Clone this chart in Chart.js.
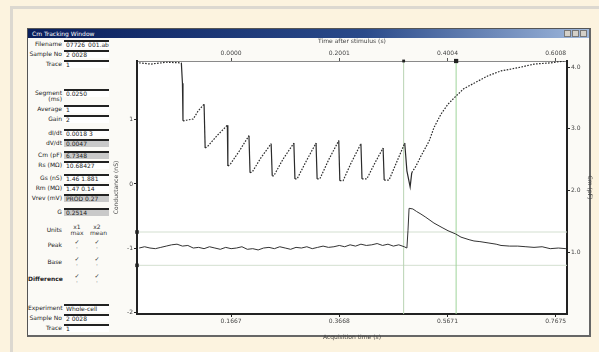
<!DOCTYPE html>
<html>
<head>
<meta charset="utf-8">
<script src="https://cdn.jsdelivr.net/npm/chart.js@4/dist/chart.umd.min.js"></script>
<style>
  body { margin: 0; width: 599px; height: 352px; background: #fcf3df; overflow: hidden; font-family: 'DejaVu Sans', sans-serif; }
  .sheet { position: absolute; left: 10px; top: 6px; width: 589px; height: 346px; border-top: 3px solid #dcd8d0; border-left: 3px solid #dcd8d0; background: #fcf3df; }
  .win { position: absolute; left: 27px; top: 28px; width: 561px; height: 306px; border: 1px solid #555; border-right: 2px solid #666; border-bottom: 2px solid #666; background: #fbfaf6; }
  .titlebar { position: absolute; left: 0; top: 0; width: 561px; height: 9px; background: linear-gradient(to right, #0a1f5c, #2a4a8a 60%, #9fb8dc); color: #fff; font-size: 6px; line-height: 9px; padding-left: 4px; box-sizing: border-box; }
  .btn { position: absolute; top: 1px; width: 7px; height: 7px; background: #d4d0c8; border: 1px solid #777; box-sizing: border-box; }
  .lab { position: absolute; font-size: 6px; color: #222; text-align: right; width: 34px; line-height: 6px; }
  .fld { position: absolute; left: 36px; width: 45px; height: 8px; border-top: 2px solid #222; background: #fff; font-size: 6px; line-height: 6px; color: #222; padding-left: 2px; box-sizing: border-box; white-space: nowrap; overflow: hidden; }
  .fld.grey { background: #c9c9c9; }
  .mk { position: absolute; font-size: 6px; color: #333; line-height: 6px; text-align: center; width: 14px; }
  #chart { position: absolute; left: 85px; top: 9px; }
</style>
</head>
<body>
<div class="sheet"></div>
<div class="win" id="win">
  <div class="titlebar">Cm Tracking Window
    <div class="btn" style="left:536px"></div><div class="btn" style="left:544px"></div><div class="btn" style="left:552px"></div>
  </div>
  <canvas id="chart" width="480" height="303"></canvas>
</div>
<script>
// upper trace (right axis): capacitance
const cmTime = [-0.170, -0.148, -0.120, -0.092, -0.090, -0.089, -0.083, -0.070, -0.061, -0.050, -0.048,
  -0.044, -0.026, -0.007, -0.006,
  -0.002, 0.015, 0.033, 0.035,
  0.039, 0.055, 0.074, 0.076,
  0.079, 0.096, 0.116, 0.118,
  0.122, 0.139, 0.157, 0.159,
  0.164, 0.181, 0.199, 0.201,
  0.207, 0.222, 0.240, 0.242,
  0.251, 0.266, 0.281, 0.283,
  0.292, 0.307, 0.321, 0.325, 0.331, 0.334,
  0.342, 0.351, 0.366, 0.375, 0.388, 0.401, 0.412, 0.430, 0.449, 0.475, 0.499, 0.530, 0.560, 0.591, 0.615, 0.619];
const cmValues = [4.07, 4.05, 4.08, 4.07, 3.74, 3.13, 3.14, 3.16, 3.29, 3.40, 2.69,
  2.71, 2.89, 3.06, 2.40,
  2.42, 2.64, 2.89, 2.29,
  2.30, 2.53, 2.76, 2.24,
  2.24, 2.51, 2.77, 2.19,
  2.19, 2.48, 2.77, 2.19,
  2.19, 2.51, 2.81, 2.16,
  2.16, 2.45, 2.76, 2.19,
  2.19, 2.45, 2.69, 2.17,
  2.17, 2.48, 2.77, 2.32, 2.06, 2.29,
  2.40, 2.56, 2.80, 3.02, 3.24, 3.40, 3.50, 3.65, 3.74, 3.86, 3.94, 3.99, 4.05, 4.07, 4.10, 4.12];

// lower trace (left axis): conductance
const gTime = [-0.17, -0.16, -0.15, -0.14, -0.13, -0.12, -0.11, -0.10, -0.09, -0.08,
  -0.07, -0.06, -0.05, -0.04, -0.03, -0.02, -0.01, 0.00, 0.01, 0.02,
  0.03, 0.04, 0.05, 0.06, 0.07, 0.08, 0.09, 0.10, 0.11, 0.12,
  0.13, 0.14, 0.15, 0.16, 0.17, 0.18, 0.19, 0.20, 0.21, 0.22,
  0.23, 0.24, 0.25, 0.26, 0.27, 0.28, 0.29, 0.30, 0.31, 0.32,
  0.325, 0.327, 0.329, 0.336, 0.343, 0.351, 0.360, 0.375, 0.390, 0.401,
  0.415, 0.425, 0.440, 0.449, 0.460, 0.475, 0.490, 0.499, 0.515, 0.530,
  0.545, 0.560, 0.575, 0.590, 0.605, 0.619];
const gValues = [-1.00, -0.98, -1.00, -1.01, -0.99, -0.97, -0.95, -0.94, -0.97, -0.96,
  -1.00, -0.99, -1.01, -0.98, -1.00, -1.02, -0.99, -1.01, -1.00, -0.98,
  -1.02, -1.01, -1.03, -1.00, -0.99, -1.01, -0.98, -1.00, -1.02, -0.99,
  -1.00, -0.98, -1.01, -0.99, -0.97, -0.99, -0.98, -0.96, -0.98, -0.95,
  -0.97, -0.94, -0.96, -0.95, -0.93, -0.96, -0.94, -0.97, -0.95, -0.98,
  -1.00, -0.73, -0.38, -0.39, -0.43, -0.47, -0.52, -0.61, -0.68, -0.73,
  -0.78, -0.83, -0.87, -0.89, -0.90, -0.92, -0.94, -0.96, -0.97, -0.97,
  -0.98, -0.99, -0.98, -1.01, -1.00, -1.01];

// cursors
const cursorTimes = [0.319, 0.416];
const cursorLevels = [-0.75, -1.27];

// axes
const timeMin = -0.174, timeMax = 0.621;
const leftMin = -2.03, leftMax = 1.92;
const rightMin = 0, rightMax = 4.1;
const timeTicks = [0, 0.2, 0.4, 0.6];
const topTickLabels = ['0.0000', '0.2001', '0.4004', '0.6008'];
const bottomTickLabels = ['0.1667', '0.3668', '0.5671', '0.7675'];
const leftTicks = [-2, -1, 0, 1];
const rightTicks = [1, 2, 3, 4];
const rightTickLabels = ['1.0', '2.0', '3.0', '4.0'];

// left panel
const panelRows = [
  ['Filename', '07726_001.abf', 43, ''],
  ['Sample No', '2 0028', 53, ''],
  ['Trace', '1', 63, ''],
  ['Segment (ms)', '0.0250', 92, ''],
  ['Average', '1', 108, ''],
  ['Gain', '2', 118, ''],
  ['dI/dt', '0.0018 3', 132, ''],
  ['dV/dt', '0.0047', 142, 'grey'],
  ['Cm (pF)', '6.7348', 154, 'grey'],
  ['Rs (MΩ)', '10.68427', 164, ''],
  ['Gs (nS)', '1.46 1.881', 177, ''],
  ['Rm (MΩ)', '1.47 0.14', 187, ''],
  ['Vrev (mV)', 'PROD 0.27', 197, 'grey'],
  ['G', '0.2514', 211, 'grey'],
  ['Experiment', 'Whole-cell', 307, ''],
  ['Sample No', '2 0028', 317, ''],
  ['Trace', '1', 327, '']
];
const checkRows = [['Units', 229], ['Peak', 244], ['Base', 261], ['Difference', 278]];

const win = document.getElementById('win');
const winTop = 28;
panelRows.forEach(([label, value, y, cls]) => {
  const l = document.createElement('div');
  l.className = 'lab';
  l.style.top = (y - winTop - 3) + 'px';
  l.textContent = label;
  win.appendChild(l);
  const f = document.createElement('div');
  f.className = 'fld ' + cls;
  f.style.top = (y - winTop - 4) + 'px';
  f.textContent = value;
  win.appendChild(f);
});
checkRows.forEach(([label, y], i) => {
  const l = document.createElement('div');
  l.className = 'lab';
  l.style.top = (y - winTop - 3) + 'px';
  l.style.fontWeight = i === 3 ? 'bold' : 'normal';
  l.textContent = label;
  win.appendChild(l);
  [42, 62].forEach((x, j) => {
    const m = document.createElement('div');
    m.className = 'mk';
    m.style.left = x + 'px';
    m.style.top = (y - winTop - 6) + 'px';
    m.innerHTML = i === 0 ? (j === 0 ? 'x1<br>max' : 'x2<br>mean') : '✓<br>·';
    win.appendChild(m);
  });
});

const fixSize = (w, h) => (s) => {
  if (w) s.width = w;
  if (h) s.height = h;
  s.paddingTop = 0; s.paddingBottom = 0; s.paddingLeft = 0; s.paddingRight = 0;
};

const plotBg = {
  id: 'plotBg',
  beforeDraw(chart) {
    const { ctx, chartArea: a } = chart;
    ctx.save();
    ctx.fillStyle = '#ffffff';
    ctx.fillRect(a.left, a.top, a.right - a.left, a.bottom - a.top);
    ctx.restore();
  }
};

Chart.defaults.font.family = "'DejaVu Sans', sans-serif";
Chart.defaults.font.size = 6;
Chart.defaults.color = '#444';

const cursorSets = [
  ...cursorTimes.map((t, i) => ({
    data: [{ x: t, y: leftMin }, { x: t, y: leftMax }],
    yAxisID: 'y',
    borderColor: i === 0 ? '#b9d3b3' : '#9fd49a',
    borderWidth: 1,
    pointStyle: 'rect',
    pointRadius: [0, i === 0 ? 2 : 3],
    pointBackgroundColor: '#222',
    pointBorderWidth: 0,
    clip: false,
    order: 2
  })),
  ...cursorLevels.map((c) => ({
    data: [{ x: timeMin, y: c }, { x: timeMax, y: c }],
    yAxisID: 'y',
    borderColor: '#d3dfd0',
    borderWidth: 1,
    pointStyle: 'rect',
    pointRadius: [2.5, 0],
    pointBackgroundColor: '#222',
    pointBorderWidth: 0,
    clip: false,
    order: 2
  }))
];

// sampled points look dotted on slow segments, fast jumps stay solid
const dottedUnlessJump = (ctx) => {
  const dx = Math.abs(ctx.p1.x - ctx.p0.x);
  const dy = Math.abs(ctx.p1.y - ctx.p0.y);
  return dy > dx * 3 ? undefined : [1.6, 1.4];
};

new Chart(document.getElementById('chart'), {
  type: 'line',
  data: {
    datasets: [
      {
        label: 'Cm',
        data: cmTime.map((t, i) => ({ x: t, y: cmValues[i] })),
        yAxisID: 'y1',
        borderColor: '#2b2b2b',
        borderWidth: 1.2,
        pointRadius: 0,
        tension: 0,
        segment: { borderDash: dottedUnlessJump },
        order: 0
      },
      {
        label: 'G',
        data: gTime.map((t, i) => ({ x: t, y: gValues[i] })),
        yAxisID: 'y',
        borderColor: '#333333',
        borderWidth: 1,
        pointRadius: 0,
        tension: 0,
        order: 1
      },
      ...cursorSets
    ]
  },
  options: {
    responsive: false,
    animation: false,
    devicePixelRatio: 1,
    plugins: { legend: { display: false }, tooltip: { enabled: false } },
    scales: {
      x: {
        type: 'linear', position: 'bottom', min: timeMin, max: timeMax,
        afterBuildTicks: (s) => { s.ticks = timeTicks.map((v) => ({ value: v })); },
        afterFit: fixSize(null, 27),
        ticks: { callback: (v, i) => bottomTickLabels[i], padding: 1, maxRotation: 0 },
        grid: { drawOnChartArea: false, tickLength: 3, color: '#222' },
        border: { color: '#222', width: 2 },
        title: { display: true, text: 'Acquisition time (s)', padding: 0, font: { size: 6 } }
      },
      x2: {
        type: 'linear', position: 'top', min: timeMin, max: timeMax,
        afterBuildTicks: (s) => { s.ticks = timeTicks.map((v) => ({ value: v })); },
        afterFit: fixSize(null, 23),
        ticks: { callback: (v, i) => topTickLabels[i], padding: 1, maxRotation: 0 },
        grid: { drawOnChartArea: false, tickLength: 3, color: '#555' },
        border: { color: '#8a8a8a', width: 1 },
        title: { display: true, text: 'Time after stimulus (s)', padding: 0, font: { size: 6 } }
      },
      y: {
        position: 'left', min: leftMin, max: leftMax,
        afterBuildTicks: (s) => { s.ticks = leftTicks.map((v) => ({ value: v })); },
        afterFit: fixSize(24, null),
        ticks: { padding: 1 },
        grid: { drawOnChartArea: false, tickLength: 3, color: '#222' },
        border: { color: '#222', width: 2 },
        title: { display: true, text: 'Conductance (nS)', padding: 0, font: { size: 6 } }
      },
      y1: {
        position: 'right', min: rightMin, max: rightMax,
        afterBuildTicks: (s) => { s.ticks = rightTicks.map((v) => ({ value: v })); },
        afterFit: fixSize(26, null),
        ticks: { callback: (v, i) => rightTickLabels[i], padding: 1 },
        grid: { drawOnChartArea: false, tickLength: 3, color: '#222' },
        border: { color: '#222', width: 2 },
        title: { display: true, text: 'Cm (pF)', padding: 0, font: { size: 6 } }
      }
    }
  },
  plugins: [plotBg]
});
</script>
</body>
</html>
